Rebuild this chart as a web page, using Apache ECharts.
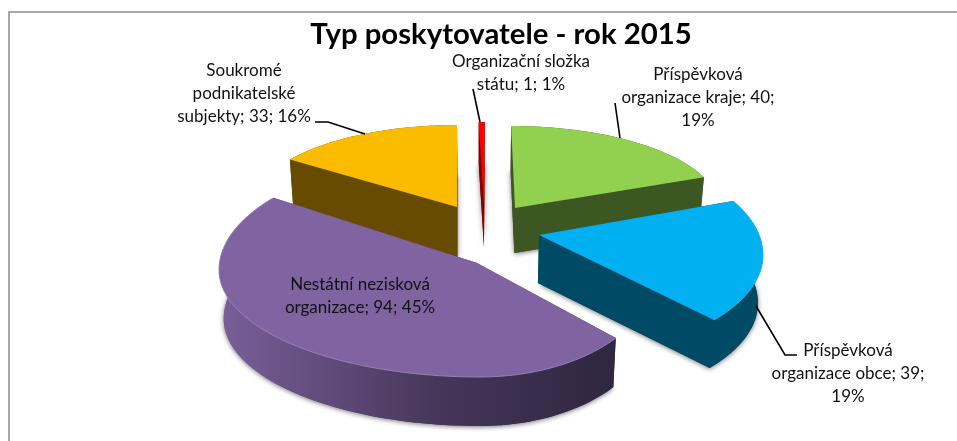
<!DOCTYPE html>
<html><head><meta charset="utf-8">
<style>html,body{margin:0;padding:0;background:#fff}#c{width:957px;height:441px}</style>
<script src="https://cdn.jsdelivr.net/npm/echarts@6/dist/echarts.min.js"></script>
</head><body><div id="c"></div>
<script>
const titleText = 'Typ poskytovatele - rok 2015';
const categories = ['Organizační složka\nstátu','Příspěvková\norganizace kraje','Příspěvková\norganizace obce','Nestátní nezisková\norganizace','Soukromé\npodnikatelské\nsubjekty'];
const values = [1,40,39,94,33];
const percents = [1,19,19,45,16];
const labelBreaks = [
  'Organizační složka\nstátu; 1; 1%',
  'Příspěvková\norganizace kraje; 40;\n19%',
  'Příspěvková\norganizace obce; 39;\n19%',
  'Nestátní nezisková\norganizace; 94; 45%',
  'Soukromé\npodnikatelské\nsubjekty; 33; 16%'
];
const topColors = ['#FF0000','#92D050','#00B0F0','#8064A2','#FBBC00'];
const wallColors = ['#8a0000','#3D5723','#004A66',
  {type:'linear',x:0,y:0,x2:1,y2:0,colorStops:[{offset:0,color:'#7A5F9A'},{offset:0.55,color:'#46365A'},{offset:1,color:'#2F2640'}]},
  '#664B00'];
const bevelColors = [null,null,'#1CB8F2','#9481B3',null];
// layout of each exploded, tilted slice: apex, ellipse centre, radii, angle trims, height, paint order
const lens = [
  {ax:484,ay:205,ex:478.7,ey:205,rxL:200,rxR:200,ryT:83,ryB:83,dS:0,dE:0,h:42,z:0},
  {ax:515,ay:208,ex:511,ey:208,rxL:208,rxR:208,ryT:82,ryB:82,dS:-1.7,dE:-3.3,h:45,z:1},
  {ax:539,ay:235,ex:539,ey:255,rxL:224,rxR:224,ryT:108,ryB:104,dS:-11.3,dE:-10.5,h:48,z:2},
  {ax:477,ay:263,ex:480,ey:270,rxL:261,rxR:176,ryT:118,ryB:107,dS:-9.6,dE:5.1,h:49,z:4},
  {ax:457,ay:207,ex:457,ey:207,rxL:205,rxR:205,ryT:82,ryB:82,dS:2.8,dE:0,h:50,z:3}
];
const labelPos = [[521,73],[698,98],[848,374],[360,296],[244,94]];
const leaders = [
  [[473,89],[480,122]],
  [[615,103],[620,138]],
  [[756,306],[785,355],[797,355]],
  null,
  [[315,122],[328,122],[365,134]]
];
const FONT='Lato';
const total = values.reduce((a,b)=>a+b,0);
const starts = values.map((_,i)=>values.slice(0,i).reduce((a,b)=>a+b,0)/total*360);

function down(p,h){return [p[0]+(480-p[0])*0.018,p[1]+h];}
function renderItem(params,api){
  const i=params.dataIndex, L=lens[i], v=api.value(0);
  const a0=starts[i]+L.dS, a1=starts[i]+v/total*360+L.dE;
  const arc=[]; const n=Math.max(2,Math.ceil((a1-a0)/2));
  for(let k=0;k<=n;k++){
    const t=(a0+(a1-a0)*k/n)*Math.PI/180, s=Math.sin(t), c=Math.cos(t);
    arc.push([L.ex+(s>=0?L.rxR:L.rxL)*s, L.ey-(c>=0?L.ryT:L.ryB)*c]);
  }
  const apex=[L.ax,L.ay];
  const lowArc=arc.map(p=>down(p,L.h)), lowApex=down(apex,L.h);
  const base=L.z*10;
  const kids=[];
  const poly=(pts,fill,z,extra)=>kids.push({type:'polygon',z2:base+z,shape:{points:pts},style:Object.assign({fill:fill},extra||{})});
  poly([lowApex].concat(lowArc),wallColors[i],0,{shadowBlur:5,shadowColor:'rgba(0,0,0,0.55)',shadowOffsetX:0,shadowOffsetY:1});
  poly([apex,arc[0],lowArc[0],lowApex],wallColors[i],1);
  poly([apex,arc[n],lowArc[n],lowApex],wallColors[i],1);
  poly(arc.concat(lowArc.slice().reverse()),wallColors[i],2);
  poly([apex].concat(arc),topColors[i],3);
  if(bevelColors[i]) kids.push({type:'polyline',z2:base+4,shape:{points:arc},style:{fill:'none',stroke:bevelColors[i],lineWidth:1}});
  if(leaders[i]) kids.push({type:'polyline',z2:90,shape:{points:leaders[i]},style:{fill:'none',stroke:'#000',lineWidth:1.6}});
  kids.push({type:'text',z2:100,style:{text:labelBreaks[i],x:labelPos[i][0],y:labelPos[i][1],align:'center',verticalAlign:'middle',fontFamily:FONT,fontSize:17,lineHeight:23,fill:'#111'}});
  return {type:'group',children:kids};
}
const chart=echarts.init(document.getElementById('c'),null,{renderer:'canvas'});
chart.setOption({
  animation:false,
  backgroundColor:'#fff',
  title:{text:titleText,left:496,top:15,textAlign:'center',textStyle:{fontFamily:FONT,fontSize:29.3,fontWeight:'bold',color:'#000'}},
  graphic:[
    {type:'polyline',shape:{points:[[9,441],[9,12],[957,12]]},style:{fill:'none',stroke:'#8A8A8A',lineWidth:1.5}}
  ],
  series:[{type:'custom',coordinateSystem:'none',renderItem:renderItem,data:values.map((v,i)=>({name:categories[i],value:[v]}))}]
});
</script></body></html>
